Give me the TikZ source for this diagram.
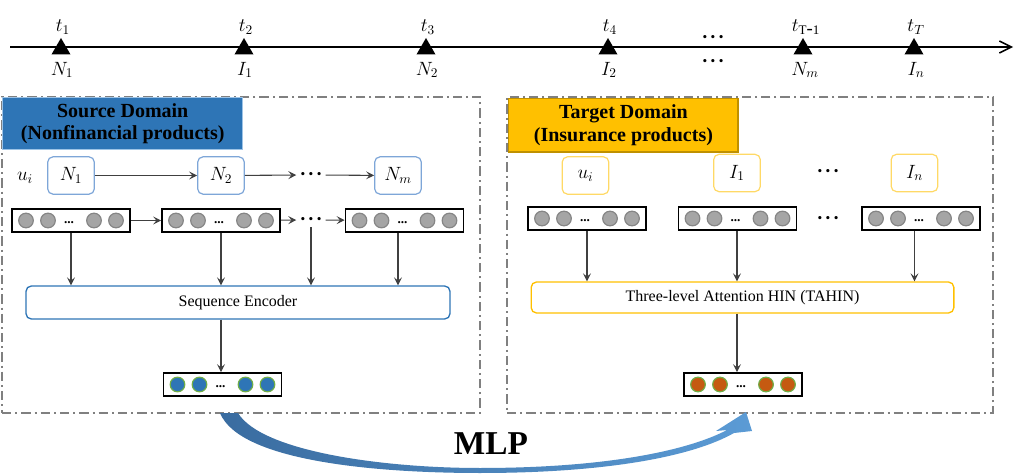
\documentclass[tikz,border=0pt]{standalone}
\usepackage{fontspec}
\setmainfont{Liberation Serif}
\usepackage{tikz}
\usetikzlibrary{arrows.meta,positioning,shapes.geometric,calc}

\definecolor{srcblue}{HTML}{2E75B6}
\definecolor{srcedge}{HTML}{9DC3E6}
\definecolor{tgtgold}{HTML}{FFC000}
\definecolor{tgtedge}{HTML}{BF9000}
\definecolor{itemblue}{HTML}{7EA6D8}
\definecolor{itemgold}{HTML}{FFD966}
\definecolor{framegray}{HTML}{808080}
\definecolor{ballgray}{HTML}{A5A5A5}
\definecolor{balledge}{HTML}{858585}
\definecolor{ballgreen}{HTML}{70AD47}
\definecolor{ballred}{HTML}{C55A11}
\definecolor{arrgray}{HTML}{404040}
\definecolor{mlpdark}{HTML}{3A6CA0}
\definecolor{mlplight}{HTML}{5B9BD5}

\newcommand{\seqdots}{{\fontsize{10}{10}\selectfont\textbullet\hspace{2.6pt}\textbullet\hspace{2.6pt}\textbullet}}

\begin{document}
\begin{tikzpicture}[
  x=0.75pt,y=-0.75pt,
  tick/.style={regular polygon, regular polygon sides=3, fill=black, inner sep=0pt, minimum size=16.5pt},
  lab/.style={font=\fontsize{14}{16}\selectfont, inner sep=1pt},
  frame/.style={draw=framegray, line width=1.1pt, dash pattern=on 7pt off 3pt on 1.5pt off 3pt, minimum height=237pt, inner sep=0pt},
  srctitle/.style={draw=srcedge, fill=srcblue, line width=1.1pt, align=center, font=\fontsize{15}{17}\selectfont\bfseries, minimum width=180pt, minimum height=39pt, anchor=north west, inner sep=0pt},
  tgttitle/.style={draw=tgtedge, fill=tgtgold, line width=1.1pt, align=center, font=\fontsize{15}{17}\selectfont\bfseries, minimum width=172pt, minimum height=40pt, anchor=north west, inner sep=0pt},
  item/.style={rounded corners=4pt, line width=0.9pt, minimum width=35pt, minimum height=28pt, inner sep=1pt, font=\fontsize{14}{16}\selectfont},
  srcitem/.style={item, draw=itemblue},
  tgtitem/.style={item, draw=itemgold},
  vec/.style={draw, line width=1.3pt, minimum width=88.5pt, minimum height=17.25pt, inner sep=0pt},
  ball/.style={circle, minimum size=11pt, inner sep=0pt, line width=0.9pt},
  grayball/.style={ball, fill=ballgray, draw=balledge},
  blueball/.style={ball, fill=srcblue, draw=ballgreen},
  redball/.style={ball, fill=ballred, draw=ballgreen},
  pics/emb/.style={code={
    \foreach \dx in {-45,-23,23,45} \node[#1] at (\dx,0) {};
    \node[font=\bfseries\fontsize{10}{10}\selectfont, inner sep=0pt] at (-2,2) {...};
  }},
  model/.style={rounded corners=4pt, line width=1pt, font=\fontsize{12}{14}\selectfont},
  arr/.style={-{Stealth[length=6pt,width=6pt,inset=2.5pt]}, line width=0.8pt, draw=arrgray},
  hdots/.style={inner sep=3pt}
]
\useasboundingbox (0,0) rectangle (1014,474);

\coordinate (tstart) at (10,47);
\coordinate (tend) at (1013,47);
\draw[line width=1.1pt, -{Straight Barb[length=9pt,width=9pt]}] (tstart) -- (tend);
\node[tick] (k1) at (61,49) {};
\node[tick] (k2) at (244,49) {};
\node[tick] (k3) at (426,49) {};
\node[tick] (k4) at (608,49) {};
\node[tick] (k5) at (803,49) {};
\node[tick] (k6) at (914,49) {};
\node[lab] (t1) at (63,27) {$t_1$};
\node[lab] (t2) at (246,27) {$t_2$};
\node[lab] (t3) at (428,27) {$t_3$};
\node[lab] (t4) at (610,27) {$t_4$};
\node[lab] (t5) at (806,27) {$t_{\mathrm{T\mbox{-}1}}$};
\node[lab] (t6) at (916,27) {$t_T$};
\node[lab] (b1) at (62,70) {$N_1$};
\node[lab] (b2) at (245,70) {$I_1$};
\node[lab] (b3) at (427,70) {$N_2$};
\node[lab] (b4) at (609,70) {$I_2$};
\node[lab] (b5) at (805,70) {$N_m$};
\node[lab] (b6) at (916,70) {$I_n$};
\node[hdots] (tdup) at (713,39) {\seqdots};
\node[hdots] (tddown) at (713,63) {\seqdots};

\node[frame, minimum width=358.5pt] (srcbox) at (241,255) {};
\node[srctitle] (srchead) at (2,97) {Source Domain\\(Nonfinancial products)};
\node[lab] (ui) at (25,178) {$u_i$};
\node[srcitem] (n1) at (71,175.5) {$N_1$};
\node[srcitem] (n2) at (221,175.5) {$N_2$};
\node[hdots] (ndots) at (311,175) {\seqdots};
\node[srcitem] (nm) at (398,175.5) {$N_m$};
\draw[arr] (n1) -- (n2);
\draw[arr] (n2) -- (ndots);
\draw[arr] (ndots) -- (nm);
\node[vec] (s1) at (71,220.5) {};
\pic at (s1) {emb=grayball};
\node[vec] (s2) at (221,220.5) {};
\pic at (s2) {emb=grayball};
\node[hdots] (sdots) at (311,220) {\seqdots};
\node[vec] (s3) at (404.5,220.5) {};
\pic at (s3) {emb=grayball};
\draw[arr] (s1) -- (s2);
\draw[arr] (s2) -- (sdots);
\draw[arr] (sdots) -- (s3);
\node[model, draw=srcblue, minimum width=318pt, minimum height=24.75pt] (enc) at (238,302.5) {Sequence Encoder};
\draw[arr] (s1.south -| n1) -- (enc.north -| n1);
\draw[arr] (s2.south) -- (enc.north -| s2);
\draw[arr] (sdots.south) -- (enc.north -| sdots);
\draw[arr] (s3.south -| nm) -- (enc.north -| nm);
\node[vec] (sout) at (222.5,384.5) {};
\pic at (sout) {emb=blueball};
\draw[arr] (enc.south -| s2) -- (sout.north -| s2);

\node[frame, minimum width=364.5pt] (tgtbox) at (750,255) {};
\node[tgttitle] (tgthead) at (508,98) {Target Domain\\(Insurance products)};
\node[tgtitem] (tu) at (585.5,175.5) {$u_i$};
\node[tgtitem] (ti1) at (737,173) {$I_1$};
\node[hdots] (tdots) at (828,172) {\seqdots};
\node[tgtitem] (tin) at (914.5,173) {$I_n$};
\node[vec] (e1) at (587,218.5) {};
\pic at (e1) {emb=grayball};
\node[vec] (e2) at (737.5,218.5) {};
\pic at (e2) {emb=grayball};
\node[hdots] (edots) at (828,219) {\seqdots};
\node[vec] (e3) at (921,218.5) {};
\pic at (e3) {emb=grayball};
\node[model, draw=tgtgold, minimum width=317pt, minimum height=23.25pt] (tah) at (742.5,297.5) {Three-level Attention HIN (TAHIN)};
\draw[arr] (e1.south) -- (tah.north -| e1);
\draw[arr] (e2.south -| ti1) -- (tah.north -| ti1);
\draw[arr] (e3.south -| tin) -- (tah.north -| tin);
\node[vec] (tout) at (743,384.5) {};
\pic at (tout) {emb=redball};
\draw[arr] (tah.south -| ti1) -- (tout.north -| ti1);

\shade[left color=mlpdark, right color=mlplight]
  (220,413) .. controls (240,462) and (380,473) .. (480,473)
  .. controls (600,473) and (690,458) .. (734,433)
  -- (752,431) -- (746,412) -- (716,431) -- (727,430)
  .. controls (685,452) and (600,468) .. (480,468)
  .. controls (385,468) and (262,452) .. (238,413) -- cycle;
\node[font=\fontsize{25}{28}\selectfont\bfseries] (mlp) at (491,444) {MLP};
\end{tikzpicture}
\end{document}
